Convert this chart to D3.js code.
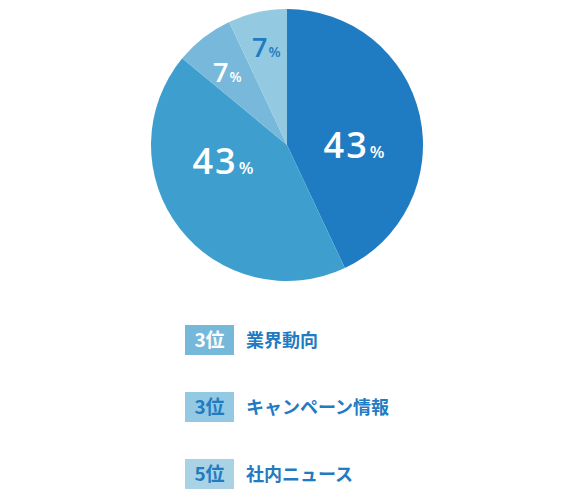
<!DOCTYPE html>
<html><head><meta charset="utf-8">
<script src="https://cdn.jsdelivr.net/npm/d3@7"></script>
<style>
html,body{margin:0;padding:0;background:#fff;}
svg{display:block;}
</style></head>
<body>
<svg id="chart" width="574" height="501"></svg>
<script>
// Data
const sliceNames = ["A", "B", "C", "D"];
const sliceValues = [43, 43, 7, 7];
const rankLabels = ["3位", "3位", "5位"];
const rankItems = ["業界動向", "キャンペーン情報", "社内ニュース"];

// Style / layout config
const sliceColors = ["#1f7bc2", "#3e9fcf", "#78b8da", "#93c9e1"];
const labelColors = ["#ffffff", "#ffffff", "#ffffff", "#1f7bc2"];
const labelRadius = [67, 66, 94, 100];
const labelAngleShift = [12.6, 23.8, -1.6, 0.6];
const numSize = [36, 36, 27, 27];
const pctSize = [17, 17, 14, 14];
const boxColors = ["#76b8d9", "#93c9e2", "#a9d3e5"];
const boxTextColors = ["#ffffff", "#1f7bc2", "#1f7bc2"];

const svg = d3.select("#chart");
const cx = 287, cy = 145, R = 136;
const numFont = "'Open Sans', Arial, sans-serif";
const jpFont = "'Noto Sans CJK JP', sans-serif";

const pie = d3.pie().sort(null).value(d => d)(sliceValues);
const arc = d3.arc().innerRadius(0).outerRadius(R);
const g = svg.append("g").attr("transform", `translate(${cx},${cy})`);

g.selectAll("path").data(pie).join("path")
  .attr("d", arc)
  .attr("fill", (d, i) => sliceColors[i]);

const lbl = g.selectAll("text.lbl").data(pie).join("text")
  .attr("class", "lbl")
  .attr("font-family", numFont)
  .attr("font-weight", 600)
  .attr("fill", (d, i) => labelColors[i])
  .attr("text-anchor", "middle")
  .attr("transform", (d, i) => {
    const a = (d.startAngle + d.endAngle) / 2 + labelAngleShift[i] * Math.PI / 180;
    const x = labelRadius[i] * Math.sin(a);
    const y = -labelRadius[i] * Math.cos(a);
    return `translate(${x},${y + numSize[i] * 0.36})`;
  });
lbl.append("tspan").attr("font-size", (d, i) => numSize[i])
  .attr("letter-spacing", (d, i) => i < 2 ? 2 : 0).text(d => d.data);
lbl.append("tspan").attr("font-size", (d, i) => pctSize[i]).attr("dx", 1).text("%");

// Legend
const yScale = d3.scalePoint().domain(d3.range(rankItems.length)).range([325, 459]);
const lg = svg.selectAll("g.leg").data(rankItems).join("g")
  .attr("class", "leg")
  .attr("transform", (d, i) => `translate(185,${yScale(i)})`);
lg.append("rect").attr("width", 49).attr("height", 30)
  .attr("fill", (d, i) => boxColors[i]);
lg.append("text").attr("x", 24.5).attr("y", 22)
  .attr("text-anchor", "middle")
  .attr("font-family", jpFont).attr("font-weight", "bold").attr("font-size", 19)
  .attr("fill", (d, i) => boxTextColors[i])
  .text((d, i) => rankLabels[i]);
lg.append("text").attr("x", 61).attr("y", 22)
  .attr("font-family", jpFont).attr("font-weight", "bold").attr("font-size", 18)
  .attr("fill", "#1f7bc2")
  .text(d => d);
</script>
</body></html>
